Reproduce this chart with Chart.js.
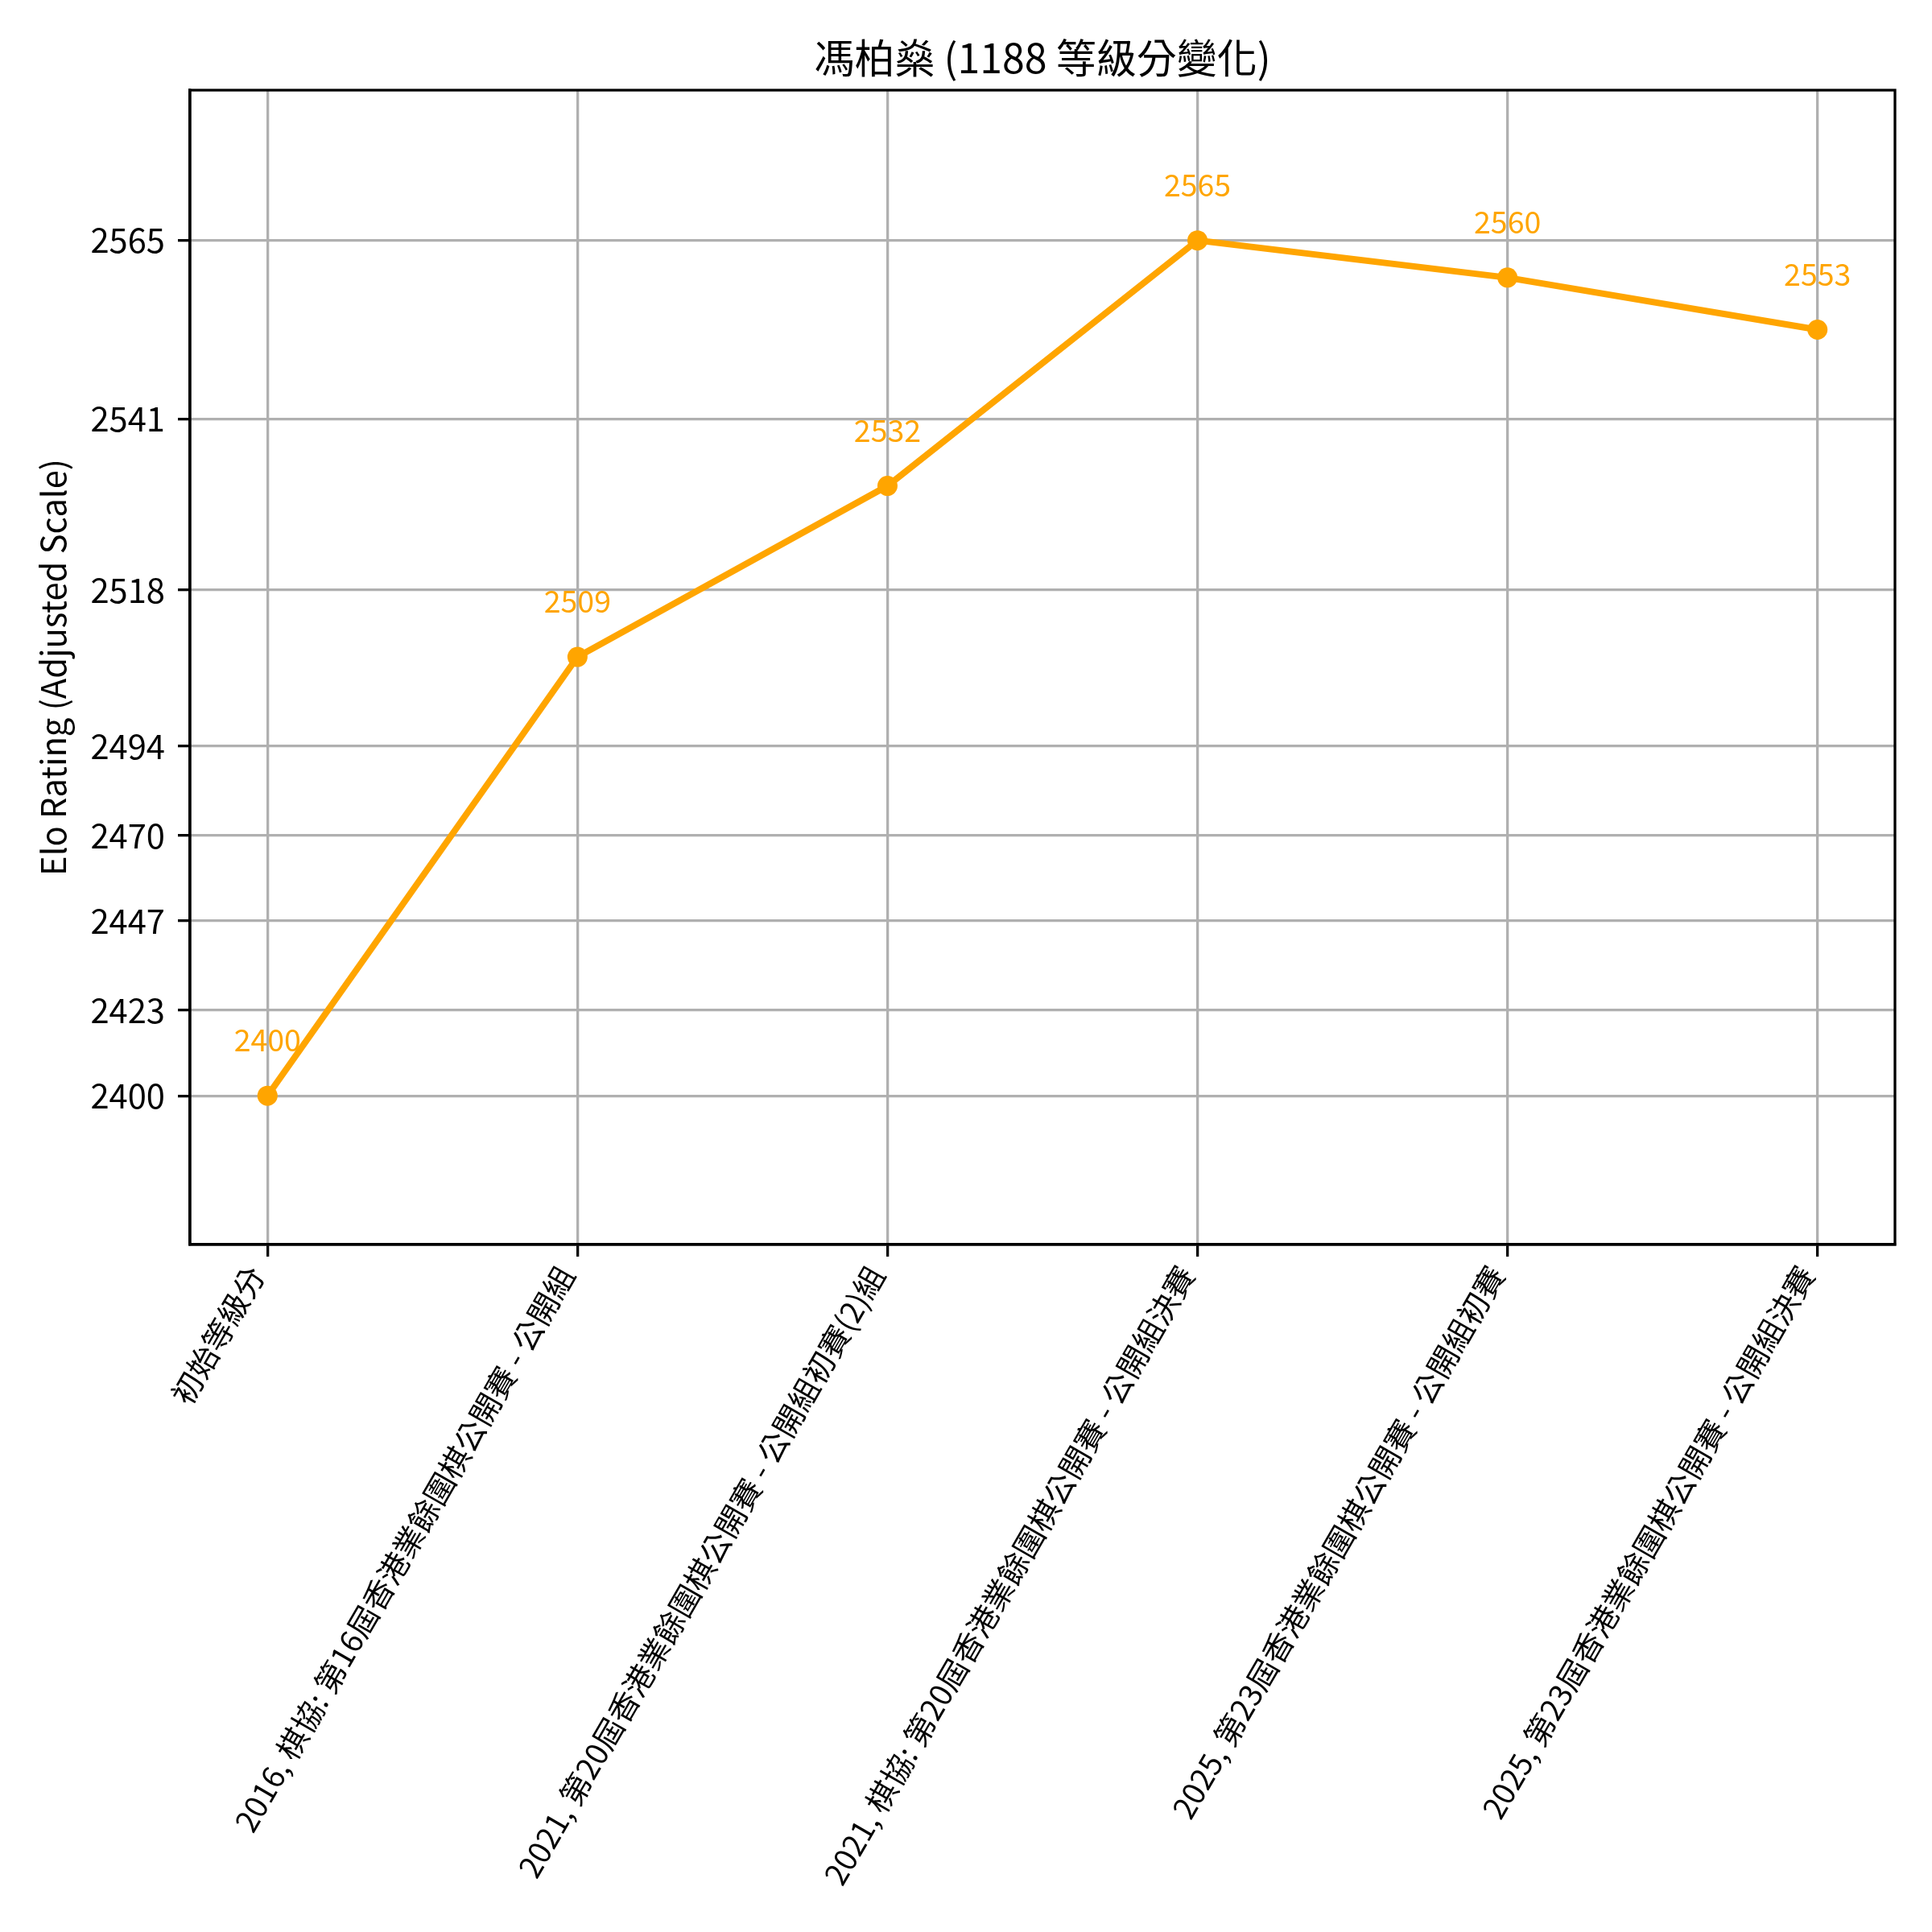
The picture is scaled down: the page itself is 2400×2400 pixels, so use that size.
<!DOCTYPE html>
<html>
<head>
<meta charset="utf-8">
<script src="https://cdn.jsdelivr.net/npm/chart.js@4/dist/chart.umd.min.js"></script>
<style>
  html, body { margin: 0; padding: 0; background: #ffffff; }
  #wrap { width: 2400px; height: 2400px; }
</style>
</head>
<body>
<div id="wrap"><canvas id="c" width="2400" height="2400"></canvas></div>
<script>
// ---- data ----
const chartTitle = '馮柏燊 (1188 等級分變化)';
const yAxisTitle = 'Elo Rating (Adjusted Scale)';
const categories = [
  '初始等級分',
  '2016, 棋協: 第16屆香港業餘圍棋公開賽 - 公開組',
  '2021, 第20屆香港業餘圍棋公開賽 - 公開組初賽(2)組',
  '2021, 棋協: 第20屆香港業餘圍棋公開賽 - 公開組決賽',
  '2025, 第23屆香港業餘圍棋公開賽 - 公開組初賽',
  '2025, 第23屆香港業餘圍棋公開賽 - 公開組決賽'
];
const ratings = [2400, 2509, 2532, 2565, 2560, 2553];
const yTickValues = [2400, 2423, 2447, 2470, 2494, 2518, 2541, 2565];
const yTickLabels = ['2400', '2423', '2447', '2470', '2494', '2518', '2541', '2565'];

// ---- adjusted scale: values below the break are compressed ----
const BREAK = 2500, LOWER_FACTOR = 0.5;
function adjust(v) { return v >= BREAK ? v : BREAK + (v - BREAK) * LOWER_FACTOR; }

const FONT = '"Noto Sans CJK TC", "Noto Sans CJK SC", "Noto Sans", sans-serif';
const ORANGE = '#FFA500';
const GRID = '#b0b0b0';
const LW = 3.3;

const points = ratings.map((v, i) => ({ x: i, y: adjust(v) }));

const frameAndTitle = {
  id: 'frameAndTitle',
  afterDatasetsDraw(chart) {
    const { ctx } = chart;
    ctx.save();
    const meta = chart.getDatasetMeta(0);
    ctx.fillStyle = ORANGE;
    ctx.font = '37.5px ' + FONT;
    ctx.textAlign = 'center';
    ctx.textBaseline = 'alphabetic';
    meta.data.forEach((el, i) => {
      ctx.fillText(String(ratings[i]), el.x, el.y - 55);
    });
    ctx.restore();
  },
  afterDraw(chart) {
    const { ctx, chartArea: a } = chart;
    ctx.save();
    ctx.strokeStyle = '#000000';
    ctx.lineWidth = LW;
    ctx.strokeRect(a.left, a.top, a.right - a.left, a.bottom - a.top);
    ctx.fillStyle = '#000000';
    ctx.font = '50px ' + FONT;
    ctx.textAlign = 'center';
    ctx.textBaseline = 'middle';
    ctx.fillText(chartTitle, (a.left + a.right) / 2, 72);
    ctx.restore();
  }
};

new Chart(document.getElementById('c'), {
  type: 'line',
  data: {
    datasets: [{
      data: points,
      borderColor: ORANGE,
      backgroundColor: ORANGE,
      borderWidth: 8,
      pointRadius: 12.5,
      pointBorderWidth: 0,
      pointBackgroundColor: ORANGE,
      pointHoverRadius: 12.5,
      tension: 0,
      fill: false
    }]
  },
  options: {
    responsive: false,
    devicePixelRatio: 1,
    animation: false,
    layout: { padding: { left: 0, right: 46, top: 112, bottom: 0 } },
    plugins: {
      legend: { display: false },
      title: { display: false },
      tooltip: { enabled: false }
    },
    scales: {
      x: {
        type: 'linear',
        min: -0.25,
        max: 5.25,
        afterBuildTicks(scale) {
          scale.ticks = categories.map((_, i) => ({ value: i }));
        },
        afterFit(scale) {
          scale.height = 854;
          scale.paddingLeft = 0;
          scale.paddingRight = 0;
        },
        grid: {
          color: GRID,
          lineWidth: LW,
          tickColor: '#000000',
          tickLength: 15,
          tickWidth: LW
        },
        border: { display: true, color: '#000000', width: LW },
        ticks: {
          autoSkip: false,
          minRotation: 60,
          maxRotation: 60,
          padding: 4,
          labelOffset: -14,
          color: '#000000',
          font: { family: FONT, size: 38 },
          callback(value, index) { return categories[index]; }
        }
      },
      y: {
        type: 'linear',
        min: 2430,
        max: 2585.2,
        afterBuildTicks(scale) {
          scale.ticks = yTickValues.map(v => ({ value: adjust(v) }));
        },
        afterFit(scale) {
          scale.width = 236;
          scale.paddingTop = 0;
          scale.paddingBottom = 0;
        },
        grid: {
          color: GRID,
          lineWidth: LW,
          tickColor: '#000000',
          tickLength: 15,
          tickWidth: LW
        },
        border: { display: true, color: '#000000', width: LW },
        ticks: {
          padding: 16,
          color: '#000000',
          font: { family: FONT, size: 41.7 },
          callback(value, index) { return yTickLabels[index]; }
        },
        title: {
          display: true,
          text: yAxisTitle,
          color: '#000000',
          font: { family: FONT, size: 41.7 },
          padding: { top: 41, bottom: 0 }
        }
      }
    }
  },
  plugins: [frameAndTitle]
});
</script>
</body>
</html>
